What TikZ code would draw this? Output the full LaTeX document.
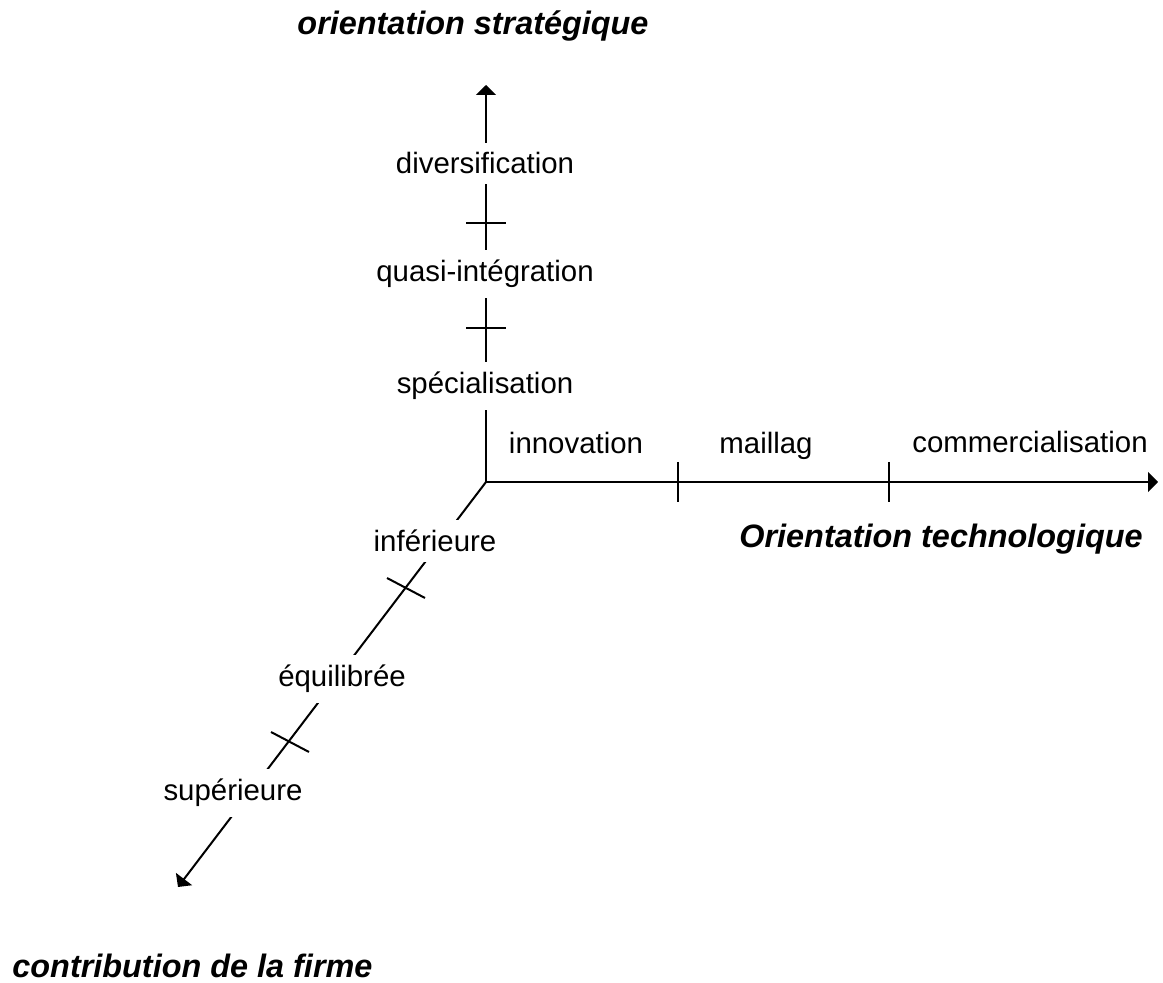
\documentclass[tikz,border=0pt]{standalone}
\usepackage{fontspec}
\setmainfont{Liberation Sans}
\usetikzlibrary{arrows.meta}
\begin{document}
\begin{tikzpicture}[x=0.5pt,y=-0.5pt,
  axis/.style={line width=1pt,-{Triangle[length=5pt,width=10pt]}},
  tickmark/.style={line width=1pt},
  lab/.style={font=\fontsize{14.7}{17}\selectfont, anchor=base, inner sep=0pt},
  onaxis/.style={lab, fill=white, inner xsep=3pt, inner ysep=5pt},
  title/.style={font=\fontsize{16.2}{19}\selectfont\bfseries\itshape, anchor=base, inner sep=0pt}]
\useasboundingbox (0,0) rectangle (1163,983);
% axes
\coordinate (O) at (486,482);
\coordinate (Ntip) at (486,85);
\coordinate (Etip) at (1158,482);
\coordinate (SWtip) at (178,887);
\draw[axis] (O) -- (Ntip);
\draw[axis] (O) -- (Etip);
\draw[axis] (O) -- (SWtip);
% ticks
\coordinate (v1) at (486,223);
\coordinate (v2) at (486,328);
\coordinate (h1) at (678,482);
\coordinate (h2) at (889,482);
\coordinate (d1) at (406,588);
\coordinate (d2) at (290,742);
\draw[tickmark] (v1) ++(-20,0) -- ++(40,0);
\draw[tickmark] (v2) ++(-20,0) -- ++(40,0);
\draw[tickmark] (h1) ++(0,-20) -- ++(0,40);
\draw[tickmark] (h2) ++(0,-20) -- ++(0,40);
\draw[tickmark] (d1) ++(-19,-10) -- ++(38,20);
\draw[tickmark] (d2) ++(-19,-10) -- ++(38,20);
% labels
\node[onaxis] (div) at (485,174) {diversification};
\node[onaxis] (quasi) at (485,282) {quasi-intégration};
\node[onaxis] (spec) at (485,394) {spécialisation};
\node[lab] (inno) at (576,454) {innovation};
\node[lab] (mail) at (766,454) {maillag};
\node[lab] (comm) at (1030,453) {commercialisation};
\node[onaxis] (inf) at (435,552) {inférieure};
\node[onaxis] (equi) at (342,687) {équilibrée};
\node[onaxis] (sup) at (233,801) {supérieure};
% titles
\node[title] (tstrat) at (473,35) {orientation stratégique};
\node[title] (ttech) at (941,548) {Orientation technologique};
\node[title, anchor=base west] (tcontrib) at (12,978) {contribution de la firme};
\end{tikzpicture}
\end{document}
